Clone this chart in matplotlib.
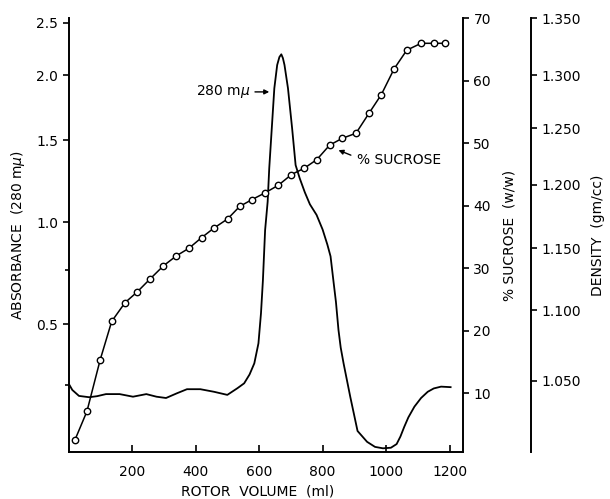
import numpy as np
import matplotlib
matplotlib.use('Agg')
from matplotlib import pyplot as plt

# absorbance at 280 mu
abs_ml = [0, 12, 33, 65, 90, 118, 161, 203, 245, 277, 307, 341, 373, 415, 458,
          500, 532, 553, 570, 585, 598, 606, 612, 619, 627, 632, 640, 648, 657,
          664, 670, 675, 680, 691, 704, 715, 728, 744, 760, 781, 800, 815, 825,
          834, 842, 850, 857, 866, 887, 910, 940, 965, 990, 1015, 1033, 1045,
          1057, 1070, 1089, 1110, 1131, 1150, 1173, 1203]
abs_val = [0.255, 0.229, 0.206, 0.201, 0.205, 0.213, 0.213, 0.203, 0.213, 0.203,
           0.198, 0.216, 0.232, 0.232, 0.222, 0.210, 0.236, 0.255, 0.290, 0.335,
           0.418, 0.549, 0.700, 0.957, 1.115, 1.317, 1.585, 1.889, 2.088, 2.160,
           2.185, 2.150, 2.088, 1.889, 1.585, 1.337, 1.254, 1.170, 1.100, 1.040,
           0.960, 0.880, 0.820, 0.700, 0.600, 0.475, 0.400, 0.335, 0.203, 0.075,
           0.036, 0.018, 0.013, 0.015, 0.028, 0.055, 0.090, 0.125, 0.165, 0.198,
           0.222, 0.235, 0.242, 0.240]

# % sucrose fractions
suc_ml = [20, 58, 100, 136, 178, 216, 257, 299, 340, 379, 419, 457, 501, 539,
          578, 620, 661, 702, 742, 782, 822, 862, 905, 946, 985, 1025, 1065,
          1110, 1150, 1184]
suc_pct = [2.5, 7.1, 15.4, 21.5, 24.5, 26.2, 28.3, 30.4, 32.0, 33.2, 34.9, 36.4,
           37.9, 39.9, 41.0, 42.1, 43.3, 45.0, 46.0, 47.4, 49.7, 50.8, 51.6,
           54.8, 57.8, 61.9, 64.9, 66.0, 66.0, 66.0]

x_ticks = [200, 400, 600, 800, 1000, 1200]
abs_ticks = [0.5, 1.0, 1.5, 2.0, 2.5]
abs_minor = [0.25, 0.75]
suc_ticks = [10, 20, 30, 40, 50, 60, 70]
# density tick labels and the % sucrose they line up with
dens_labels = ['1.050', '1.100', '1.150', '1.200', '1.250', '1.300', '1.350']
dens_at_suc = [12.0, 23.3, 33.2, 43.4, 52.4, 60.9, 70.0]


def fwd(a):
    return 1 - 0.64 ** np.asarray(a)


def inv(f):
    f = np.clip(np.asarray(f, dtype=float), -10, 0.999999)
    return np.log(1 - f) / np.log(0.64)


plt.rcParams['font.family'] = 'DejaVu Sans'
plt.rcParams['font.size'] = 10

fig = plt.figure(figsize=(6.1, 4.99), dpi=100)
ax = fig.add_axes([68.5 / 610, 47 / 499, 394.5 / 610, 433.7 / 499])

ax.plot(abs_ml, abs_val, color='k', lw=1.3)
ax.set_yscale('function', functions=(fwd, inv))
ax.set_ylim(0, 2.548)
ax.set_xlim(0, 1242)
ax.set_yticks(abs_ticks)
ax.set_yticklabels(['%.1f' % v for v in abs_ticks])
ax.set_yticks(abs_minor, minor=True)
ax.set_xticks(x_ticks)
ax.tick_params(axis='y', which='major', direction='out', length=4, width=1.2)
ax.tick_params(axis='y', which='minor', direction='out', length=3, width=1.2)
ax.tick_params(axis='x', direction='in', length=5, width=1.2, pad=9)
ax.spines['top'].set_visible(False)
ax.spines['right'].set_visible(False)
for s in ['left', 'bottom']:
    ax.spines[s].set_linewidth(1.4)
ax.set_xlabel('ROTOR  VOLUME  (ml)')
ax.xaxis.set_label_coords(0.48, -0.075)
ax.set_ylabel('ABSORBANCE  (280 m$\\mu$)')
ax.yaxis.set_label_coords(-0.105, 0.5)

ax.annotate('280 m$\\mu$', xy=(632, 1.86), xytext=(574, 1.86),
            ha='right', va='center',
            arrowprops=dict(arrowstyle='-|>', color='k', lw=1,
                            mutation_scale=7, shrinkA=1, shrinkB=0))

# sucrose axis
ax2 = ax.twinx()
ax2.plot(suc_ml, suc_pct, color='k', lw=1.1, marker='o', ms=4.6,
         mfc='white', mec='k', mew=1)
ax2.set_ylim(0.6, 70)
ax2.set_yticks(suc_ticks)
ax2.tick_params(axis='y', direction='out', length=4, width=1.2)
for s in ['top', 'left', 'bottom']:
    ax2.spines[s].set_visible(False)
ax2.spines['right'].set_linewidth(1.4)
ax2.set_ylabel('% SUCROSE  (w/w)')
ax2.yaxis.set_label_coords(1.10, 0.5)

ax2.annotate('', xy=(850, 48.9), xytext=(889, 48.1),
             arrowprops=dict(arrowstyle='-|>', color='k', lw=1,
                             mutation_scale=7, shrinkA=0, shrinkB=0))
ax2.text(908, 47.4, '% SUCROSE', ha='left', va='center')

# density axis
ax3 = ax.twinx()
ax3.set_ylim(0.6, 70)
ax3.spines['right'].set_position(('axes', 1.1716))
for s in ['top', 'left', 'bottom']:
    ax3.spines[s].set_visible(False)
ax3.spines['right'].set_linewidth(1.4)
ax3.set_yticks(dens_at_suc)
ax3.set_yticklabels(dens_labels)
ax3.tick_params(axis='y', direction='out', length=4, width=1.2)
ax3.set_ylabel('DENSITY  (gm/cc)')
ax3.yaxis.set_label_coords(1.324, 0.5)

fig.savefig('out.png', dpi=100)
